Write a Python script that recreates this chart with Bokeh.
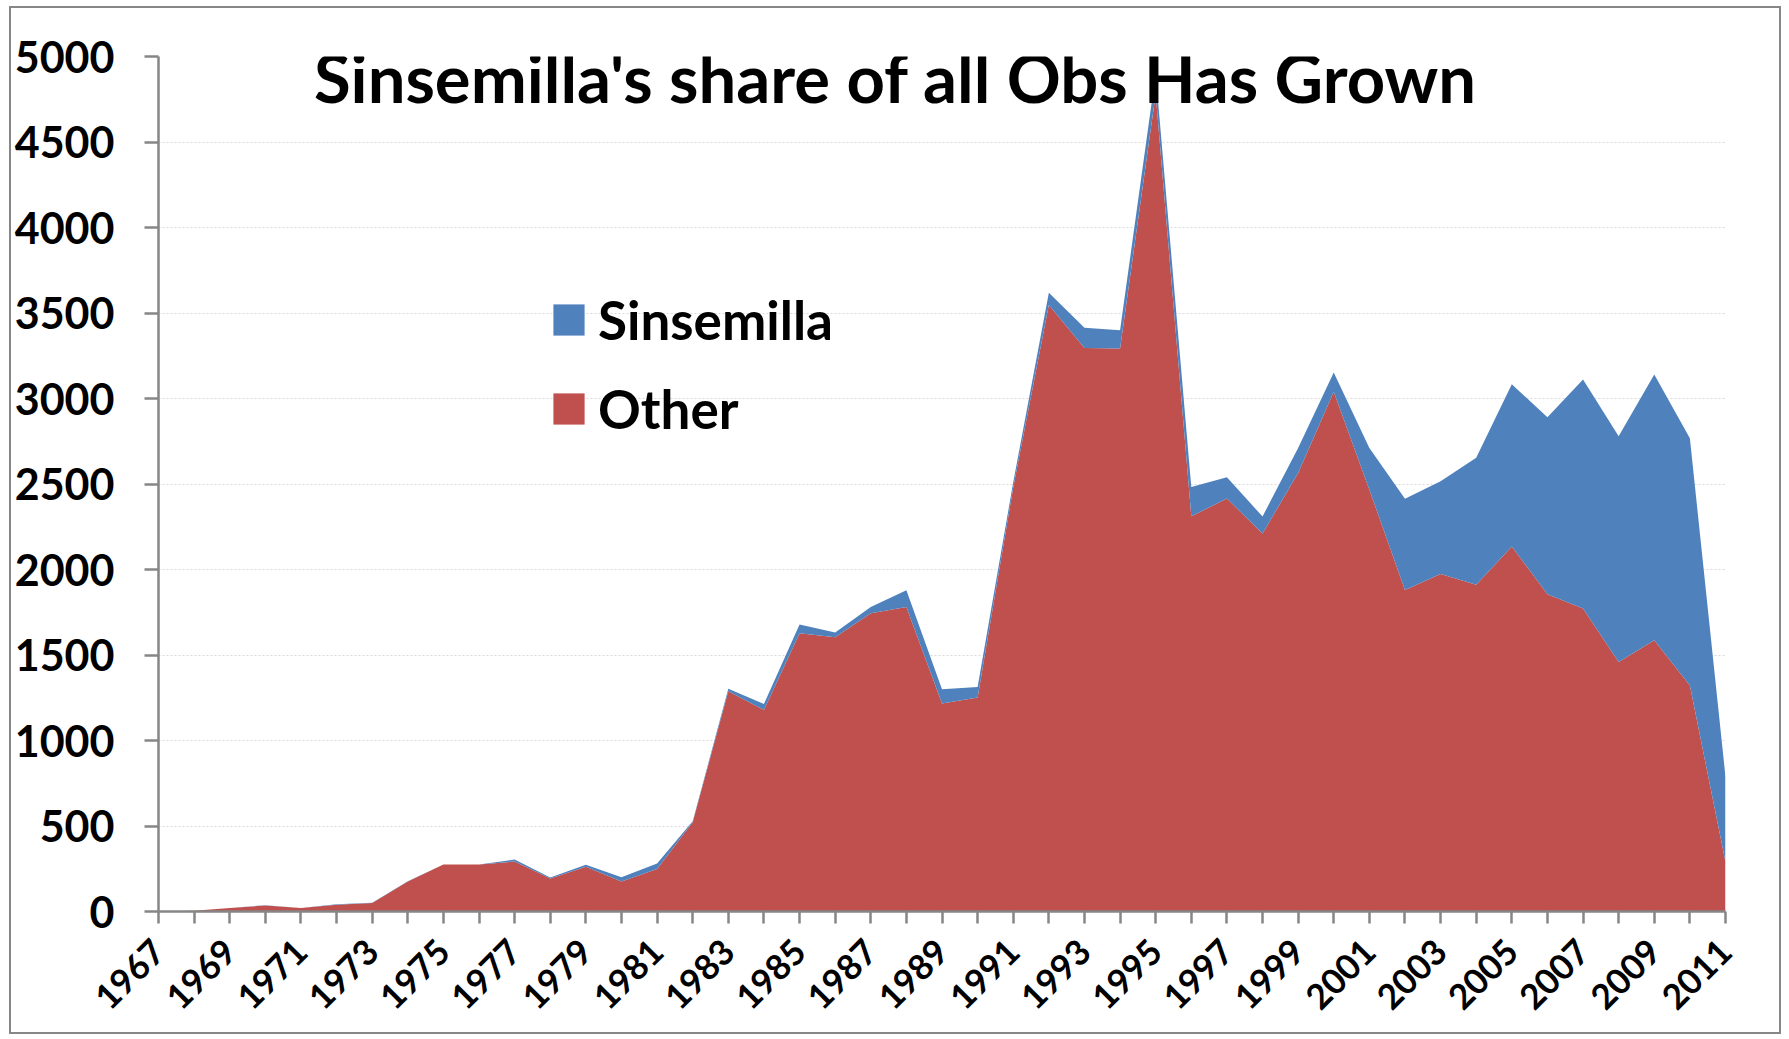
import math
from bokeh.plotting import figure
from bokeh.models import (ColumnDataSource, FixedTicker, Label, Legend, LegendItem, Range1d)
from bokeh.embed import file_html
from bokeh.resources import INLINE

# ---- data ----
years = list(range(1967, 2012))
other = [0, 5, 20, 35, 20, 40, 50, 175, 275, 275,
         292, 193, 261, 175, 249, 522, 1288, 1179, 1627, 1604,
         1744, 1781, 1216, 1251, 2480, 3547, 3295, 3293, 4780, 2311,
         2415, 2210, 2565, 3040, 2467, 1880, 1974, 1911, 2135, 1855,
         1772, 1459, 1586, 1322, 289]
sinsemilla = [0, 0, 1, 2, 1, 3, 1, 2, 0, 0,
              12, 6, 12, 26, 32, 6, 14, 35, 51, 27,
              37, 97, 84, 62, 30, 72, 119, 106, 120, 172,
              124, 100, 146, 112, 244, 534, 542, 742, 948, 1036,
              1339, 1320, 1555, 1446, 498]
y_ticks = list(range(0, 5001, 500))
title_text = "Sinsemilla's share of all Obs Has Grown"

total = [o + s for o, s in zip(other, sinsemilla)]
src = ColumnDataSource(dict(year=years, other=other, total=total))

FONT = "Lato"
AXIS_GRAY = "#868686"

p = figure(width=1772, height=1028,
           x_range=Range1d(years[0], years[-1]), y_range=Range1d(0, 5000),
           output_backend="svg", toolbar_location=None,
           min_border_left=145, min_border_top=48,
           min_border_right=58, min_border_bottom=125)
p.styles = {"border": "2px solid #878787", "margin": "6px 0px 0px 9px"}
p.outline_line_color = None
p.background_fill_color = "white"
p.border_fill_color = "white"

r_other = p.varea(x="year", y1=0, y2="other", source=src,
                  fill_color="#C0504D", fill_alpha=1.0)
r_sins = p.varea(x="year", y1="other", y2="total", source=src,
                 fill_color="#4F81BD", fill_alpha=1.0)

# x axis
p.xaxis.ticker = FixedTicker(ticks=years[::2], minor_ticks=years[1::2])
p.xaxis.major_label_orientation = math.pi / 4
p.xaxis.major_label_text_font = FONT
p.xaxis.major_label_text_font_style = "bold"
p.xaxis.major_label_text_font_size = "35px"
p.xaxis.major_label_text_color = "black"
p.xaxis.major_label_standoff = 22
p.xaxis.axis_line_color = AXIS_GRAY
p.xaxis.axis_line_width = 2.5
p.xaxis.major_tick_line_color = AXIS_GRAY
p.xaxis.major_tick_line_width = 2.5
p.xaxis.minor_tick_line_color = AXIS_GRAY
p.xaxis.minor_tick_line_width = 2.5
p.xaxis.major_tick_in = 0
p.xaxis.major_tick_out = 12
p.xaxis.minor_tick_in = 0
p.xaxis.minor_tick_out = 12

# y axis
p.yaxis.ticker = FixedTicker(ticks=y_ticks)
p.yaxis.major_label_text_font = FONT
p.yaxis.major_label_text_font_style = "bold"
p.yaxis.major_label_text_font_size = "43px"
p.yaxis.major_label_text_color = "black"
p.yaxis.major_label_standoff = 30
p.yaxis.axis_line_color = AXIS_GRAY
p.yaxis.axis_line_width = 2.5
p.yaxis.major_tick_line_color = AXIS_GRAY
p.yaxis.major_tick_line_width = 2.5
p.yaxis.major_tick_in = 0
p.yaxis.major_tick_out = 14
p.yaxis.minor_tick_line_color = None

p.xgrid.visible = False
p.ygrid.grid_line_color = "#D9D9D9"
p.ygrid.grid_line_dash = "2 2"
p.ygrid.grid_line_width = 1

# title inside the plot area
p.add_layout(Label(x=1987.7, y=4880, text=title_text,
                   text_font=FONT, text_font_style="bold",
                   text_font_size="67px", text_color="black",
                   text_align="center", text_baseline="middle"))

legend = Legend(items=[LegendItem(label="Sinsemilla", renderers=[r_sins]),
                       LegendItem(label="Other", renderers=[r_other])],
                location=(391, 471), orientation="vertical",
                glyph_width=39, glyph_height=39, label_height=39,
                spacing=26, padding=0, margin=0,
                label_standoff=10,
                label_text_font=FONT, label_text_font_style="bold",
                label_text_font_size="53px", label_text_color="black",
                border_line_color=None, background_fill_alpha=0)
p.add_layout(legend)

open("out.html", "w").write(file_html(p, INLINE))
